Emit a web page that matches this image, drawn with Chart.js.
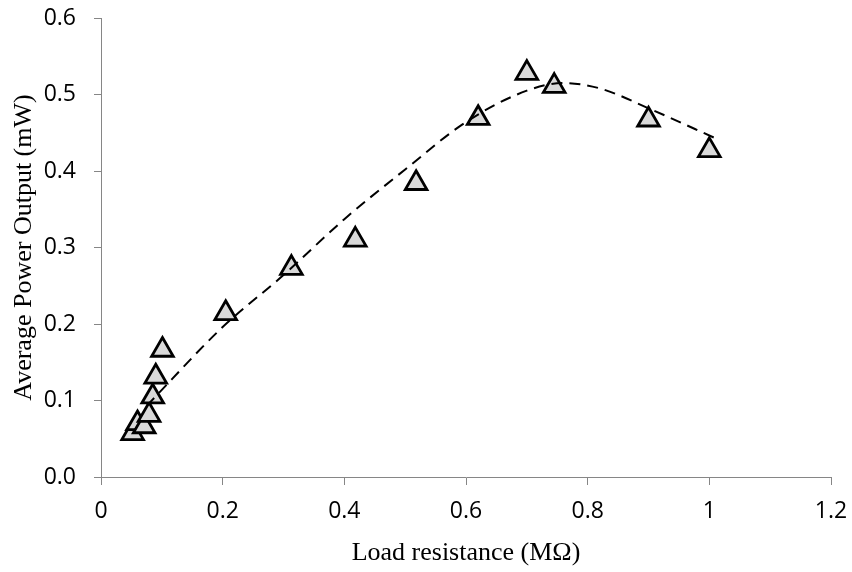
<!DOCTYPE html>
<html>
<head>
<meta charset="utf-8">
<script src="https://cdn.jsdelivr.net/npm/chart.js@4.4.1/dist/chart.umd.min.js"></script>
<style>
  html, body { margin: 0; padding: 0; background: #fff; }
  #wrap { width: 852px; height: 572px; }
</style>
</head>
<body>
<div id="wrap"><canvas id="chart" width="852" height="572"></canvas></div>
<script>
// measured points (load resistance in MΩ, power in mW)
const loadRes = [0.052, 0.060, 0.071, 0.079, 0.085, 0.090, 0.101, 0.205, 0.313, 0.418, 0.518, 0.620, 0.700, 0.745, 0.900, 1.000];
const avgPower = [0.057, 0.070, 0.066, 0.081, 0.105, 0.131, 0.166, 0.214, 0.273, 0.310, 0.384, 0.469, 0.528, 0.511, 0.467, 0.427];

// dashed trend line
const trendX = [0.075, 0.2, 0.3, 0.4, 0.5, 0.6, 0.7, 0.76, 0.82, 0.9, 1.015];
const trendY = [0.093, 0.196, 0.264, 0.337, 0.402, 0.464, 0.505, 0.515, 0.508, 0.482, 0.441];

const xTickLabels = ['0', '0.2', '0.4', '0.6', '0.8', '1', '1.2'];
const yTickLabels = ['0.0', '0.1', '0.2', '0.3', '0.4', '0.5', '0.6'];

const axisGrey = '#868686';
const tickFont = { family: 'Open Sans', size: 23 };
const titleFont = { family: 'Liberation Serif', size: 26 };

new Chart(document.getElementById('chart'), {
  type: 'scatter',
  data: {
    datasets: [
      {
        label: 'Trend',
        data: trendX.map((x, i) => ({ x, y: trendY[i] })),
        showLine: true,
        borderColor: '#000',
        borderWidth: 2,
        borderDash: [11, 7],
        cubicInterpolationMode: 'monotone',
        pointRadius: 0,
        fill: false,
      },
      {
        label: 'Average Power Output',
        data: loadRes.map((x, i) => ({ x, y: avgPower[i] })),
        pointStyle: 'triangle',
        pointRadius: 12.5,
        pointHoverRadius: 12.5,
        backgroundColor: '#d9d9d9',
        borderColor: '#000',
        borderWidth: 2.8,
      },
    ],
  },
  options: {
    responsive: false,
    animation: false,
    events: [],
    layout: { padding: { top: 18, right: 21, left: 0, bottom: 0 } },
    plugins: { legend: { display: false }, tooltip: { enabled: false } },
    scales: {
      x: {
        type: 'linear',
        min: 0,
        max: 1.2,
        ticks: {
          stepSize: 0.2,
          color: '#000',
          font: tickFont,
          padding: 13,
          maxRotation: 0,
          callback: (v, i) => xTickLabels[i],
        },
        grid: { drawOnChartArea: false, drawTicks: true, tickLength: 8, color: axisGrey, lineWidth: 1 },
        border: { display: true, color: axisGrey, width: 1 },
        title: {
          display: true,
          text: 'Load resistance (MΩ)',
          color: '#000',
          font: titleFont,
          padding: { top: 0, bottom: 3 },
        },
        afterFit: (scale) => {
          scale.height = 95;
          scale.paddingLeft = 0;
          scale.paddingRight = 0;
        },
      },
      y: {
        type: 'linear',
        min: 0,
        max: 0.6,
        ticks: {
          stepSize: 0.1,
          color: '#000',
          font: tickFont,
          padding: 18,
          callback: (v, i) => yTickLabels[i],
        },
        grid: { drawOnChartArea: false, drawTicks: true, tickLength: 7, color: axisGrey, lineWidth: 1 },
        border: { display: true, color: axisGrey, width: 1 },
        title: {
          display: true,
          text: 'Average Power Output (mW)',
          color: '#000',
          font: titleFont,
          padding: { top: 9, bottom: 0 },
        },
        afterFit: (scale) => {
          scale.width = 101;
          scale.paddingTop = 0;
          scale.paddingBottom = 0;
        },
      },
    },
  },
});
</script>
</body>
</html>
